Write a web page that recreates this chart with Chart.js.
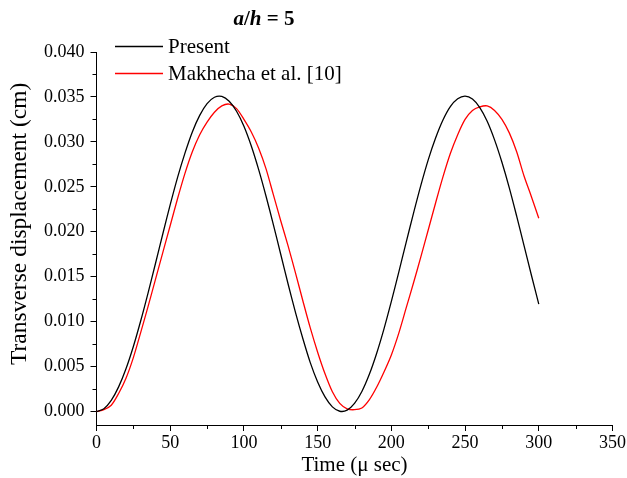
<!DOCTYPE html>
<html>
<head>
<meta charset="utf-8">
<script src="https://cdn.jsdelivr.net/npm/chart.js@4.4.1/dist/chart.umd.min.js"></script>
<style>
  html, body { margin: 0; padding: 0; background: #ffffff; }
  #wrap { width: 627px; height: 478px; position: relative; }
</style>
</head>
<body>
<div id="wrap"><canvas id="chart"></canvas></div>
<script>
const FONT = '"Liberation Serif", "Times New Roman", serif';

const timeValues = [0, 5, 10, 15, 20, 25, 30, 35, 40, 45, 50, 55, 60, 65, 70, 75, 80, 85, 90, 95,
  100, 105, 110, 115, 120, 125, 130, 135, 140, 145, 150, 155, 160, 165, 170, 175, 180, 185, 190, 195,
  200, 205, 210, 215, 220, 225, 230, 235, 240, 245, 250, 255, 260, 265, 270, 275, 280, 285, 290, 295, 300];
const presentValues = [0, 0.00031, 0.00124, 0.00274, 0.00476, 0.00724, 0.0101, 0.01321, 0.01647, 0.01978,
  0.02301, 0.02605, 0.02875, 0.03111, 0.03295, 0.03426, 0.03497, 0.03506, 0.03452, 0.03341,
  0.03174, 0.02954, 0.02691, 0.02395, 0.02077, 0.01747, 0.01416, 0.011, 0.00809, 0.00544,
  0.00329, 0.00163, 0.00052, 0.00003, 0.00015, 0.0009, 0.00223, 0.00411, 0.00646, 0.0092,
  0.01225, 0.01549, 0.01879, 0.02205, 0.02516, 0.028, 0.03043, 0.03244, 0.03393, 0.0348,
  0.0351, 0.03476, 0.03382, 0.03229, 0.03022, 0.02773, 0.02489, 0.02174, 0.01846, 0.01516, 0.01195];
const makhechaValues = [0, 0.0002, 0.0007, 0.002, 0.0037, 0.006, 0.0088, 0.0117, 0.0147, 0.0177,
  0.0207, 0.0237, 0.0265, 0.0289, 0.0308, 0.0322, 0.0333, 0.034, 0.0342, 0.0337,
  0.0325, 0.0311, 0.0293, 0.027, 0.0241, 0.0212, 0.0184, 0.0154, 0.0123, 0.0093,
  0.0066, 0.0042, 0.0022, 0.0009, 0.0003, 0.0002, 0.0004, 0.0013, 0.0027, 0.0044,
  0.0063, 0.0087, 0.0115, 0.0143, 0.0172, 0.0202, 0.0232, 0.0261, 0.0287, 0.0308,
  0.0325, 0.0335, 0.0339, 0.034, 0.0335, 0.0325, 0.031, 0.0289, 0.0262, 0.0239, 0.0215];
const seriesLabels = ['Present', 'Makhecha et al. [10]'];
const seriesColors = ['#000000', '#ff0000'];
const xTicks = [0, 50, 100, 150, 200, 250, 300, 350];
const yTicks = [0, 0.005, 0.01, 0.015, 0.02, 0.025, 0.03, 0.035, 0.04];

const toPoints = vals => timeValues.map((t, i) => ({ x: t, y: vals[i] }));

// minor ticks, title with italic parts, and the legend inside the plot
const extras = {
  id: 'extras',
  afterDraw(chart) {
    const ctx = chart.ctx;
    const xs = chart.scales.x, ys = chart.scales.y;
    ctx.save();
    ctx.strokeStyle = '#000';
    ctx.lineWidth = 1;
    ctx.beginPath();
    for (let i = 1; i < xTicks.length; i++) {
      const px = Math.round(xs.getPixelForValue((xTicks[i - 1] + xTicks[i]) / 2)) + 0.5;
      ctx.moveTo(px, xs.top);
      ctx.lineTo(px, xs.top + 4);
    }
    for (let i = 1; i < yTicks.length; i++) {
      const py = Math.round(ys.getPixelForValue((yTicks[i - 1] + yTicks[i]) / 2)) + 0.5;
      ctx.moveTo(ys.right, py);
      ctx.lineTo(ys.right - 4, py);
    }
    ctx.stroke();

    // title "a/h = 5"
    const parts = [['a', 'italic bold'], ['/', 'bold'], ['h', 'italic bold'], [' = 5', 'bold']];
    let total = 0;
    parts.forEach(p => { ctx.font = p[1] + ' 21px ' + FONT; total += ctx.measureText(p[0]).width; });
    let tx = 264 - total / 2;
    ctx.fillStyle = '#000';
    ctx.textBaseline = 'middle';
    parts.forEach(p => {
      ctx.font = p[1] + ' 21px ' + FONT;
      ctx.fillText(p[0], tx, 20);
      tx += ctx.measureText(p[0]).width;
    });

    // legend
    ctx.font = '21px ' + FONT;
    chart.data.datasets.forEach((ds, i) => {
      const ly = 46 + i * 27;
      ctx.strokeStyle = ds.borderColor;
      ctx.lineWidth = 1.3;
      ctx.beginPath();
      ctx.moveTo(115, ly + 0.5);
      ctx.lineTo(163, ly + 0.5);
      ctx.stroke();
      ctx.fillStyle = '#000';
      ctx.fillText(ds.label, 168, ly + 1);
    });
    ctx.restore();
  }
};

new Chart(document.getElementById('chart'), {
  type: 'line',
  data: {
    datasets: seriesLabels.map((label, i) => ({
      label: label,
      data: toPoints(i === 0 ? presentValues : makhechaValues),
      borderColor: seriesColors[i],
      borderWidth: 1.3,
      pointRadius: 0,
      fill: false,
      tension: 0.3
    }))
  },
  options: {
    responsive: true,
    maintainAspectRatio: false,
    animation: false,
    layout: { padding: { top: 52, left: 0, right: 0, bottom: 0 } },
    plugins: {
      legend: { display: false },
      tooltip: { enabled: false }
    },
    scales: {
      x: {
        type: 'linear',
        min: 0,
        max: 350,
        afterFit: s => { s.height = 53; },
        afterBuildTicks: s => { s.ticks = xTicks.map(v => ({ value: v })); },
        border: { display: true, color: '#000', width: 1 },
        grid: { display: true, drawOnChartArea: false, drawTicks: true, tickLength: 6, tickColor: '#000' },
        ticks: {
          color: '#000',
          padding: 1,
          maxRotation: 0,
          autoSkip: false,
          font: { family: FONT, size: 18 }
        },
        title: {
          display: true,
          text: 'Time (\u03bc sec)',
          color: '#000',
          padding: { top: 0, bottom: 0 },
          font: { family: FONT, size: 21 }
        }
      },
      y: {
        type: 'linear',
        min: -0.0015,
        max: 0.04,
        afterFit: s => { s.width = 96.5; },
        afterBuildTicks: s => { s.ticks = yTicks.map(v => ({ value: v })); },
        border: { display: true, color: '#000', width: 1 },
        grid: { display: true, drawOnChartArea: false, drawTicks: true, tickLength: 6, tickColor: '#000' },
        ticks: {
          color: '#000',
          padding: 6,
          autoSkip: false,
          font: { family: FONT, size: 18 },
          callback: v => v.toFixed(3)
        },
        title: {
          display: true,
          // leading spaces nudge the centred title upwards like the original
          text: '\u00a0\u00a0\u00a0\u00a0\u00a0Transverse displacement (cm)',
          color: '#000',
          padding: { top: 6, bottom: 0 },
          font: { family: FONT, size: 23.5 }
        }
      }
    }
  },
  plugins: [extras]
});
</script>
</body>
</html>
